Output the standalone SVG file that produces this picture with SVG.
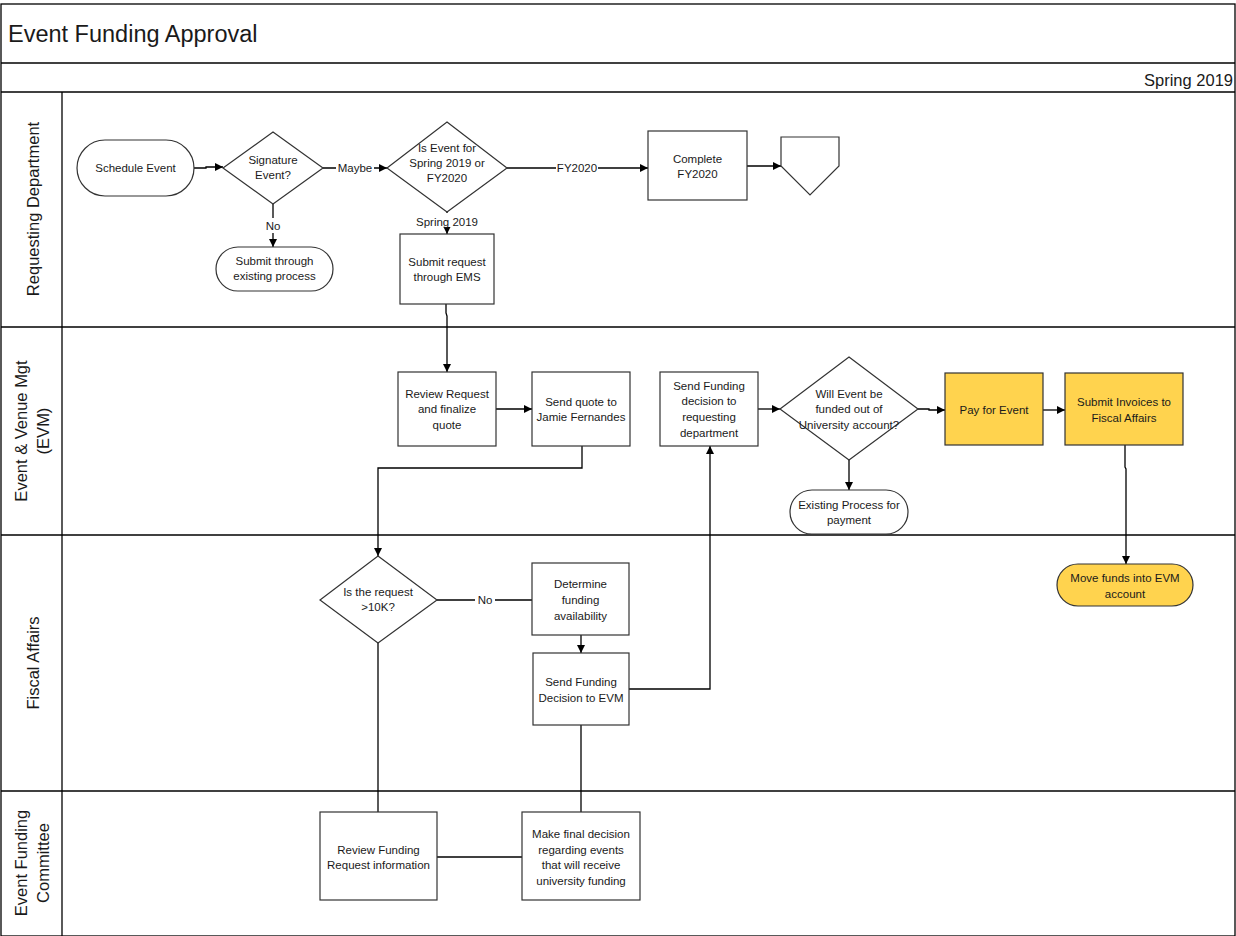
<svg xmlns="http://www.w3.org/2000/svg" width="1236" height="936" viewBox="0 0 1236 936">
<style>
  text { font-family: "Liberation Sans", Arial, sans-serif; fill: #1a1a1a; }
  .n { font-size: 11.5px; text-anchor: middle; }
  .lbl { font-size: 11.5px; text-anchor: middle; }
  .lane { font-size: 16.5px; text-anchor: middle; }
  .shape { fill: #ffffff; stroke: #333333; stroke-width: 1.2; }
  .yellow { fill: #FFD34E; stroke: #333333; stroke-width: 1.2; }
  .frame { fill: none; stroke: #000000; stroke-width: 1.3; }
  .c { fill: none; stroke: #000000; stroke-width: 1.3; }
  .a { marker-end: url(#arr); }
</style>
<defs>
  <marker id="arr" viewBox="0 0 10 10" refX="10" refY="5" markerWidth="8" markerHeight="8" markerUnits="userSpaceOnUse" orient="auto">
    <path d="M0,0 L10,5 L0,10 z" fill="#000"/>
  </marker>
</defs>
<rect width="1236" height="936" fill="#ffffff"/>
<g id="pool">
  <rect class="frame" x="1" y="4" width="1234" height="932"/>
  <line class="frame" x1="1" y1="63" x2="1235" y2="63"/>
  <line class="frame" x1="1" y1="92" x2="1235" y2="92"/>
  <line class="frame" x1="62" y1="92" x2="62" y2="936"/>
  <line class="frame" x1="1" y1="327" x2="1235" y2="327"/>
  <line class="frame" x1="1" y1="535" x2="1235" y2="535"/>
  <line class="frame" x1="1" y1="791" x2="1235" y2="791"/>
  <text x="8" y="42" style="font-size:23.5px">Event Funding Approval</text>
  <text x="1233" y="86" style="font-size:16.5px;text-anchor:end">Spring 2019</text>
  <text class="lane" transform="translate(39,209) rotate(-90)">Requesting Department</text>
  <text class="lane" transform="translate(27,431) rotate(-90)">Event &amp; Venue Mgt</text>
  <text class="lane" transform="translate(49,431) rotate(-90)">(EVM)</text>
  <text class="lane" transform="translate(39,663) rotate(-90)">Fiscal Affairs</text>
  <text class="lane" transform="translate(27,863) rotate(-90)">Event Funding</text>
  <text class="lane" transform="translate(49,863) rotate(-90)">Committee</text>
</g>
<g id="connectors">
  <path class="c a" d="M194,168 L206,168 L206,167 L223,167"/>
  <path class="c a" d="M323,168 L387,168"/>
  <rect x="336" y="160" width="38" height="15" fill="#fff"/>
  <text class="lbl" x="355" y="172">Maybe</text>
  <path class="c a" d="M507,168 L648,168"/>
  <rect x="556" y="160" width="42" height="15" fill="#fff"/>
  <text class="lbl" x="577" y="172">FY2020</text>
  <path class="c a" d="M747,166 L781,166"/>
  <path class="c a" d="M273,204 L273,247"/>
  <rect x="264" y="218" width="18" height="15" fill="#fff"/>
  <text class="lbl" x="273" y="230">No</text>
  <path class="c a" d="M447,212 L447,234"/>
  <rect x="412" y="213" width="70" height="14" fill="#fff"/>
  <text class="lbl" x="447" y="226">Spring 2019</text>
  <path class="c a" d="M446,304 L446,313 L447,316 L447,372"/>
  <path class="c a" d="M496,409 L532,409"/>
  <path class="c a" d="M582,446 L582,468 L378,468 L378,556"/>
  <path class="c" d="M437,600 L532,600"/>
  <rect x="475" y="592" width="20" height="15" fill="#fff"/>
  <text class="lbl" x="485" y="604">No</text>
  <path class="c a" d="M581,635 L581,653"/>
  <path class="c a" d="M629,689 L710,689 L710,446"/>
  <path class="c a" d="M758,409 L780,409"/>
  <path class="c a" d="M918,409 L929,409 L929,410 L945,410"/>
  <path class="c a" d="M1043,410 L1065,410"/>
  <path class="c a" d="M849,460 L849,490"/>
  <path class="c a" d="M1125,445 L1125,467 L1126,469 L1126,564"/>
  <path class="c" d="M378,643 L378,812"/>
  <path class="c" d="M437,857 L522,857"/>
  <path class="c" d="M581,725 L581,812"/>
</g>
<g id="schedule-event">
  <rect class="shape" x="77" y="140" width="117" height="56" rx="28"/>
  <text class="n" x="135.5" y="172">Schedule Event</text>
</g>
<g id="signature-event">
  <polygon class="shape" points="273,132 323,168 273,204 223,168"/>
  <text class="n" x="273" y="164">Signature</text>
  <text class="n" x="273" y="179">Event?</text>
</g>
<g id="is-event-for">
  <polygon class="shape" points="447,122 507,168 447,212 387,168"/>
  <text class="n" x="447" y="152">Is Event for</text>
  <text class="n" x="447" y="167">Spring 2019 or</text>
  <text class="n" x="447" y="182">FY2020</text>
</g>
<g id="complete-fy2020">
  <rect class="shape" x="648" y="131" width="99" height="69"/>
  <text class="n" x="697.5" y="163">Complete</text>
  <text class="n" x="697.5" y="178">FY2020</text>
</g>
<g id="off-page">
  <polygon class="shape" points="781,137 839,137 839,166 810,195 781,166"/>
</g>
<g id="submit-existing">
  <rect class="shape" x="216" y="247" width="117" height="44" rx="22"/>
  <text class="n" x="274.5" y="265">Submit through</text>
  <text class="n" x="274.5" y="280">existing process</text>
</g>
<g id="submit-ems">
  <rect class="shape" x="400" y="234" width="94" height="70"/>
  <text class="n" x="447" y="266">Submit request</text>
  <text class="n" x="447" y="281">through EMS</text>
</g>
<g id="review-request">
  <rect class="shape" x="398" y="372" width="98" height="74"/>
  <text class="n" x="447" y="398">Review Request</text>
  <text class="n" x="447" y="413">and finalize</text>
  <text class="n" x="447" y="429">quote</text>
</g>
<g id="send-quote">
  <rect class="shape" x="532" y="372" width="98" height="74"/>
  <text class="n" x="581" y="406">Send quote to</text>
  <text class="n" x="581" y="421">Jamie Fernandes</text>
</g>
<g id="send-funding-dept">
  <rect class="shape" x="660" y="372" width="98" height="74"/>
  <text class="n" x="709" y="390">Send Funding</text>
  <text class="n" x="709" y="405">decision to</text>
  <text class="n" x="709" y="421">requesting</text>
  <text class="n" x="709" y="437">department</text>
</g>
<g id="will-event-funded">
  <polygon class="shape" points="849,357 918,409 849,460 780,409"/>
  <text class="n" x="849" y="398">Will Event be</text>
  <text class="n" x="849" y="413">funded out of</text>
  <text class="n" x="849" y="429">University account?</text>
</g>
<g id="pay-for-event">
  <rect class="yellow" x="945" y="373" width="98" height="72"/>
  <text class="n" x="994" y="414">Pay for Event</text>
</g>
<g id="submit-invoices">
  <rect class="yellow" x="1065" y="373" width="118" height="72"/>
  <text class="n" x="1124" y="406">Submit Invoices to</text>
  <text class="n" x="1124" y="422">Fiscal Affairs</text>
</g>
<g id="existing-payment">
  <rect class="shape" x="790" y="490" width="118" height="44" rx="22"/>
  <text class="n" x="849" y="509">Existing Process for</text>
  <text class="n" x="849" y="524">payment</text>
</g>
<g id="move-funds">
  <rect class="yellow" x="1057" y="564" width="136" height="42" rx="21"/>
  <text class="n" x="1125" y="582">Move funds into EVM</text>
  <text class="n" x="1125" y="598">account</text>
</g>
<g id="is-request-10k">
  <polygon class="shape" points="378,556 437,600 378,643 320,600"/>
  <text class="n" x="378" y="596">Is the request</text>
  <text class="n" x="378" y="611">&gt;10K?</text>
</g>
<g id="determine-funding">
  <rect class="shape" x="532" y="563" width="97" height="72"/>
  <text class="n" x="580.5" y="588">Determine</text>
  <text class="n" x="580.5" y="604">funding</text>
  <text class="n" x="580.5" y="620">availability</text>
</g>
<g id="send-funding-evm">
  <rect class="shape" x="533" y="653" width="96" height="72"/>
  <text class="n" x="581" y="686">Send Funding</text>
  <text class="n" x="581" y="702">Decision to EVM</text>
</g>
<g id="review-funding">
  <rect class="shape" x="320" y="812" width="117" height="88"/>
  <text class="n" x="378.5" y="854">Review Funding</text>
  <text class="n" x="378.5" y="869">Request information</text>
</g>
<g id="make-final-decision">
  <rect class="shape" x="522" y="812" width="118" height="88"/>
  <text class="n" x="581" y="838">Make final decision</text>
  <text class="n" x="581" y="854">regarding events</text>
  <text class="n" x="581" y="869">that will receive</text>
  <text class="n" x="581" y="885">university funding</text>
</g>
</svg>
